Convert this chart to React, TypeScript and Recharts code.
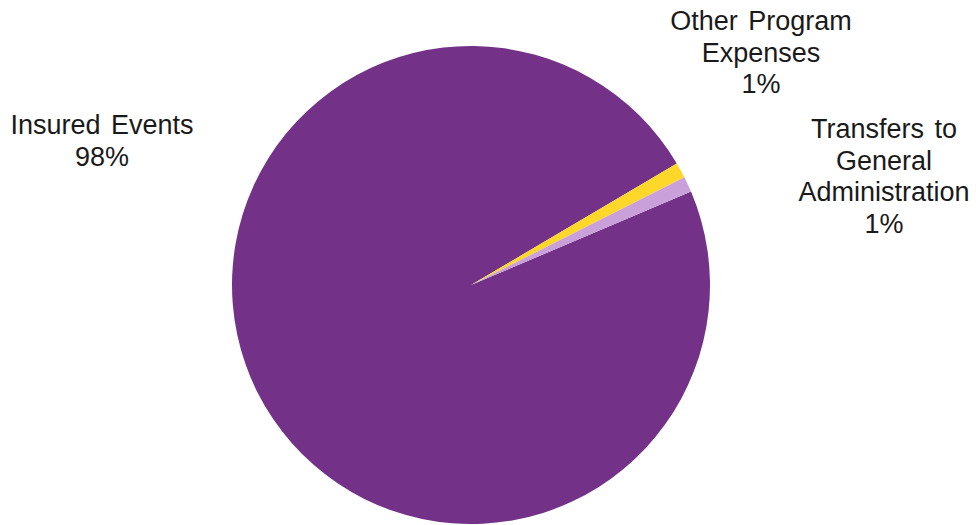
import { PieChart, Pie, Cell } from 'recharts';

const categories = ['Insured Events', 'Other Program Expenses', 'Transfers to General Administration'];
const shares = [97.9, 1.05, 1.05];
const labelLines = [['Insured Events'], ['Other Program', 'Expenses'], ['Transfers to', 'General', 'Administration']];

const COLORS = ['#733188', '#FDD82A', '#C9A0DA'];
// label anchor (center x, first baseline y) per slice
const LABEL_POS = [
  { x: 102, y: 134 },
  { x: 761, y: 30 },
  { x: 884, y: 138 },
];

const data = categories.map((name, i) => ({ name, value: shares[i] }));

const renderLabel = (props: any) => {
  const { index, percent } = props;
  const pos = LABEL_POS[index];
  const lines = [...labelLines[index], `${Math.round(percent * 100)}%`];
  return (
    <text
      key={`lbl-${index}`}
      x={pos.x}
      y={pos.y}
      textAnchor="middle"
      fill="#1a1a1a"
      fontSize={27}
      wordSpacing={3}
      fontFamily="'Liberation Sans', Arial, sans-serif"
    >
      {lines.map((l, j) => (
        <tspan key={j} x={pos.x} dy={j === 0 ? 0 : 31.5}>
          {l}
        </tspan>
      ))}
    </text>
  );
};

export default function App() {
  return (
    <div style={{ position: 'absolute', left: 0, top: 0, width: 976, height: 525, background: '#fff' }}>
      <PieChart width={976} height={525} margin={{ top: 0, right: 0, bottom: 0, left: 0 }}>
        <Pie
          data={data}
          dataKey="value"
          nameKey="name"
          cx={471}
          cy={285}
          outerRadius={239}
          startAngle={23}
          endAngle={23 - 360}
          stroke="none"
          label={renderLabel}
          labelLine={false}
          isAnimationActive={false}
        >
          {data.map((entry, index) => (
            <Cell key={`cell-${index}`} fill={COLORS[index % COLORS.length]} />
          ))}
        </Pie>
      </PieChart>
    </div>
  );
}
